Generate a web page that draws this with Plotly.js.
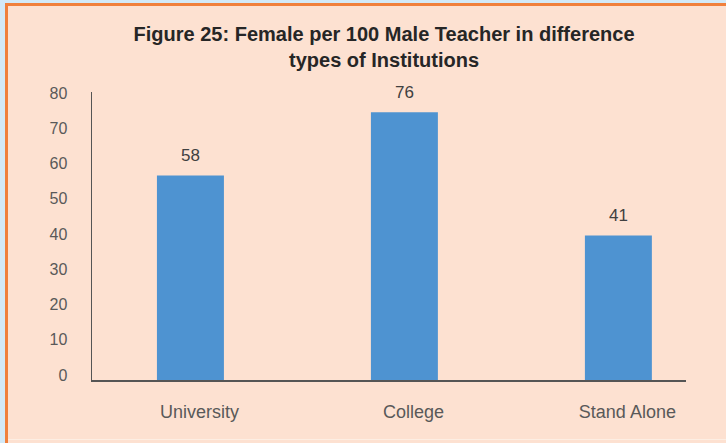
<!DOCTYPE html>
<html>
<head>
<meta charset="utf-8">
<script src="https://cdn.plot.ly/plotly-3.0.1.min.js"></script>
<style>
  html, body { margin:0; padding:0; background:#d3e9f7; }
  #wrap { position:relative; width:726px; height:443px; overflow:hidden; }
  #chart { position:absolute; left:0; top:0; width:726px; height:443px; }
  .deco { position:absolute; pointer-events:none; }
</style>
</head>
<body>
<div id="wrap">
  <div id="chart"></div>
  <div class="deco" style="left:0;top:0;width:5px;height:443px;background:#d3e9f7;"></div>
  <div class="deco" style="left:0;top:0;width:726px;height:3px;background:#d3e9f7;"></div>
  <div class="deco" style="left:5px;top:3px;width:3px;height:440px;background:#f0803c;"></div>
  <div class="deco" style="left:5px;top:3px;width:721px;height:3px;background:#f0803c;"></div>
  <div class="deco" style="left:8px;top:439px;width:718px;height:1px;background:#fdeee3;"></div>
</div>
<script>
const categories = ["University", "College", "Stand Alone"];
const values = [58, 76, 41];
const yTicks = [0, 10, 20, 30, 40, 50, 60, 70, 80];
const titleText = "Figure 25: Female per 100 Male Teacher in difference<br>types of Institutions";

const font = "Liberation Sans, Arial, Helvetica, sans-serif";

const trace = {
  type: "bar",
  x: categories,
  y: values,
  width: 0.313,
  marker: { color: "#4e93d1", line: { width: 0 } },
  hoverinfo: "skip"
};

const annotations = categories.map((c, i) => ({
  x: c, y: values[i], xref: "x", yref: "y",
  text: String(values[i]), showarrow: false,
  yshift: 20,
  font: { family: font, size: 17, color: "#404040" }
}));

const layout = {
  width: 726, height: 443,
  paper_bgcolor: "#fde1d1",
  plot_bgcolor: "#fde1d1",
  margin: { l: 92, r: 40, t: 92, b: 63, pad: 0 },
  showlegend: false,
  title: {
    text: titleText,
    font: { family: font, size: 20, color: "#262626", weight: "bold" },
    x: 0.529, xanchor: "center",
    y: 0.908, yanchor: "top"
  },
  xaxis: {
    type: "category",
    range: [-0.46, 2.316],
    showline: true, linecolor: "#555555", linewidth: 1.5,
    showgrid: false, zeroline: false, ticks: "",
    tickfont: { family: font, size: 18, color: "#595959" },
    ticklabelstandoff: 15,
    ticklabelshift: 9,
    fixedrange: true
  },
  yaxis: {
    range: [0, 81.73],
    tickmode: "array", tickvals: yTicks, ticktext: yTicks.map(String),
    showline: true, linecolor: "#555555", linewidth: 1.5,
    showgrid: false, zeroline: false, ticks: "",
    tickfont: { family: font, size: 16, color: "#595959" },
    ticklabelstandoff: 20,
    ticklabelshift: -5,
    fixedrange: true
  },
  annotations: annotations,
  bargap: 0.687
};

Plotly.newPlot("chart", [trace], layout, { displayModeBar: false, staticPlot: true });
</script>
</body>
</html>
